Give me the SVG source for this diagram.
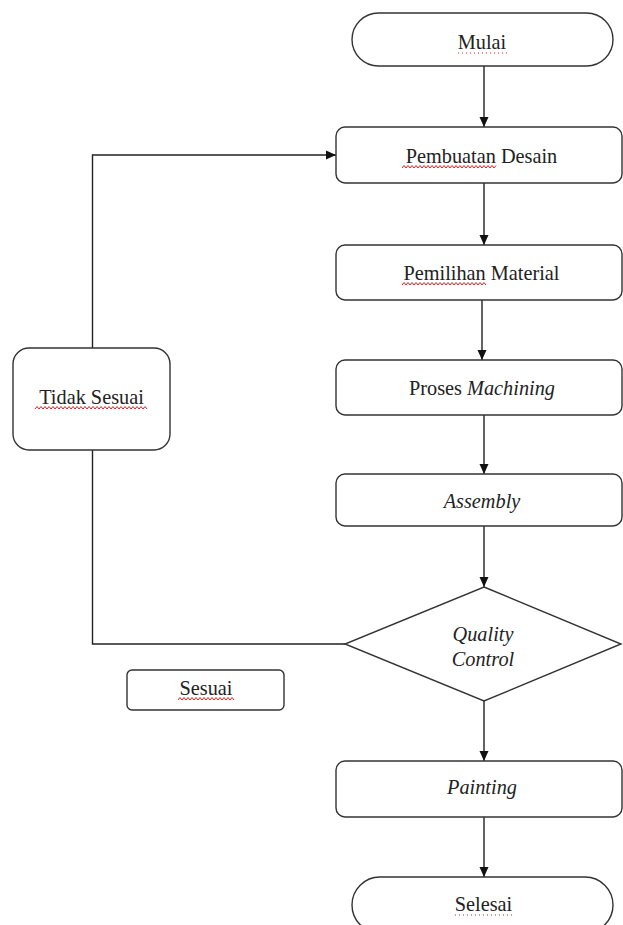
<svg xmlns="http://www.w3.org/2000/svg" width="623" height="925" viewBox="0 0 623 925">
<style>
.box{fill:#fff;stroke:#333;stroke-width:1.4}
.ln{fill:none;stroke:#222;stroke-width:1.4}
.t{font-family:"Liberation Serif","Times New Roman",serif;font-size:20.3px;fill:#222;text-anchor:middle}
.i{font-style:italic}
.sq{fill:none;stroke:#e02020;stroke-width:1}
</style>
<defs>
<marker id="ah" markerUnits="userSpaceOnUse" markerWidth="10" markerHeight="10" viewBox="0 0 10 10" refX="10" refY="5" orient="auto">
<path d="M0,0.5 L10,5 L0,9.5 Z" fill="#111"/>
</marker>
</defs>
<rect width="623" height="925" fill="#fff"/>
<g id="connectors">
<line class="ln" x1="484" y1="66" x2="484" y2="127" marker-end="url(#ah)"/>
<line class="ln" x1="484" y1="183" x2="484" y2="245" marker-end="url(#ah)"/>
<line class="ln" x1="482" y1="300" x2="482" y2="360" marker-end="url(#ah)"/>
<line class="ln" x1="484" y1="415" x2="484" y2="474" marker-end="url(#ah)"/>
<line class="ln" x1="484" y1="526" x2="484" y2="587" marker-end="url(#ah)"/>
<line class="ln" x1="484" y1="701" x2="484" y2="761" marker-end="url(#ah)"/>
<line class="ln" x1="484" y1="817" x2="484" y2="877" marker-end="url(#ah)"/>
<path class="ln" d="M345,644 H92.5 V155 H336" marker-end="url(#ah)"/>
</g>
<g id="mulai">
<rect class="box" x="352" y="13" width="261" height="53" rx="26.5"/>
<text class="t" x="482" y="49">Mulai</text>
<path class="sq" stroke-dasharray="1 3" d="M458,53 H510"/>
</g>
<g id="pembuatan-desain">
<rect class="box" x="336" y="127" width="286" height="56" rx="9"/>
<text class="t" x="481.5" y="163">Pembuatan Desain</text>
<path class="sq" d="M402,168 l2,-2.5 l2,2.5 l2,-2.5 l2,2.5 l2,-2.5 l2,2.5 l2,-2.5 l2,2.5 l2,-2.5 l2,2.5 l2,-2.5 l2,2.5 l2,-2.5 l2,2.5 l2,-2.5 l2,2.5 l2,-2.5 l2,2.5 l2,-2.5 l2,2.5 l2,-2.5 l2,2.5 l2,-2.5 l2,2.5 l2,-2.5 l2,2.5 l2,-2.5 l2,2.5 l2,-2.5 l2,2.5 l2,-2.5 l2,2.5 l2,-2.5 l2,2.5 l2,-2.5 l2,2.5 l2,-2.5 l2,2.5 l2,-2.5 l2,2.5 l2,-2.5 l2,2.5 l2,-2.5 l2,2.5 l2,-2.5 l2,2.5 l2,-2.5"/>
</g>
<g id="pemilihan-material">
<rect class="box" x="336" y="245" width="286" height="55" rx="9"/>
<text class="t" x="481.5" y="280">Pemilihan Material</text>
<path class="sq" d="M402,285 l2,-2.5 l2,2.5 l2,-2.5 l2,2.5 l2,-2.5 l2,2.5 l2,-2.5 l2,2.5 l2,-2.5 l2,2.5 l2,-2.5 l2,2.5 l2,-2.5 l2,2.5 l2,-2.5 l2,2.5 l2,-2.5 l2,2.5 l2,-2.5 l2,2.5 l2,-2.5 l2,2.5 l2,-2.5 l2,2.5 l2,-2.5 l2,2.5 l2,-2.5 l2,2.5 l2,-2.5 l2,2.5 l2,-2.5 l2,2.5 l2,-2.5 l2,2.5 l2,-2.5 l2,2.5 l2,-2.5 l2,2.5 l2,-2.5 l2,2.5 l2,-2.5 l2,2.5"/>
</g>
<g id="proses-machining">
<rect class="box" x="336" y="360" width="286" height="55" rx="9"/>
<text class="t" x="482" y="395">Proses <tspan class="i">Machining</tspan></text>
</g>
<g id="assembly">
<rect class="box" x="336" y="474" width="286" height="52" rx="9"/>
<text class="t i" x="482" y="508">Assembly</text>
</g>
<g id="quality-control">
<polygon class="box" points="484,587 621,644 484,701 345,644"/>
<text class="t i" x="483" y="641">Quality</text>
<text class="t i" x="483" y="666">Control</text>
</g>
<g id="tidak-sesuai">
<rect class="box" x="13" y="348" width="157" height="102" rx="16"/>
<text class="t" x="91.5" y="404">Tidak Sesuai</text>
<path class="sq" d="M35,409 l2,-2.5 l2,2.5 l2,-2.5 l2,2.5 l2,-2.5 l2,2.5 l2,-2.5 l2,2.5 l2,-2.5 l2,2.5 l2,-2.5 l2,2.5 l2,-2.5 l2,2.5 l2,-2.5 l2,2.5 l2,-2.5 l2,2.5 l2,-2.5 l2,2.5 l2,-2.5 l2,2.5 l2,-2.5 l2,2.5 l2,-2.5 l2,2.5 l2,-2.5 l2,2.5 l2,-2.5 l2,2.5 l2,-2.5 l2,2.5 l2,-2.5 l2,2.5 l2,-2.5 l2,2.5 l2,-2.5 l2,2.5 l2,-2.5 l2,2.5 l2,-2.5 l2,2.5 l2,-2.5 l2,2.5 l2,-2.5 l2,2.5 l2,-2.5 l2,2.5 l2,-2.5 l2,2.5 l2,-2.5 l2,2.5 l2,-2.5 l2,2.5 l2,-2.5 l2,2.5"/>
</g>
<g id="sesuai">
<rect class="box" x="127" y="670" width="157" height="40" rx="5"/>
<text class="t" x="206" y="695">Sesuai</text>
<path class="sq" d="M178,700 l2,-2.5 l2,2.5 l2,-2.5 l2,2.5 l2,-2.5 l2,2.5 l2,-2.5 l2,2.5 l2,-2.5 l2,2.5 l2,-2.5 l2,2.5 l2,-2.5 l2,2.5 l2,-2.5 l2,2.5 l2,-2.5 l2,2.5 l2,-2.5 l2,2.5 l2,-2.5 l2,2.5 l2,-2.5 l2,2.5 l2,-2.5 l2,2.5 l2,-2.5 l2,2.5"/>
</g>
<g id="painting">
<rect class="box" x="336" y="761" width="286" height="56" rx="9"/>
<text class="t i" x="482" y="794">Painting</text>
</g>
<g id="selesai">
<rect class="box" x="352" y="877" width="261" height="56" rx="28"/>
<text class="t" x="483.5" y="911">Selesai</text>
<path class="sq" stroke-dasharray="1 3" d="M455,915 H512"/>
</g>
</svg>
